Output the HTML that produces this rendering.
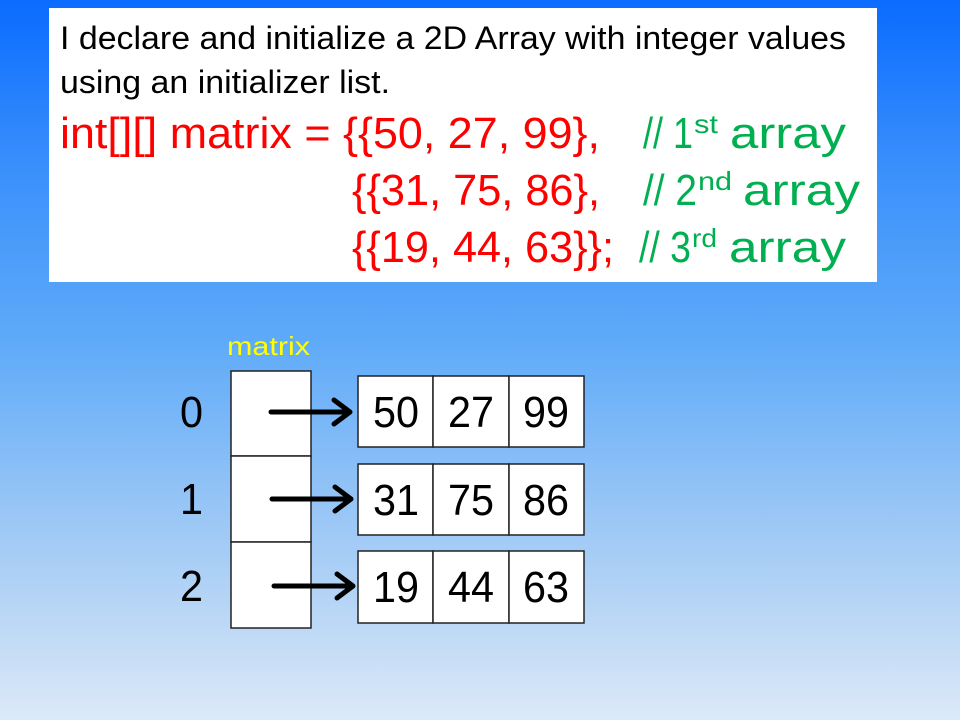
<!DOCTYPE html>
<html><head><meta charset="utf-8"><style>
html,body{margin:0;padding:0;width:960px;height:720px;overflow:hidden}
body{background:linear-gradient(to bottom,#0a6cff 0px,#3d92fb 180px,#5eaaf9 340px,#95c4f6 500px,#c2dbf6 640px,#dce9f9 720px)}
svg{position:absolute;left:0;top:0}
</style></head><body>
<svg width="960" height="720" viewBox="0 0 960 720" font-family="'Liberation Sans',sans-serif">
<rect x="49" y="8" width="828" height="274" fill="#fff"/>
<text x="60" y="49" font-size="32" fill="#000" textLength="786" lengthAdjust="spacingAndGlyphs">I declare and initialize a 2D Array with integer values</text>
<text x="60" y="93" font-size="32" fill="#000" textLength="330" lengthAdjust="spacingAndGlyphs">using an initializer list.</text>
<g font-size="44" lengthAdjust="spacingAndGlyphs">
<text x="60" y="148" fill="#f00" textLength="540" lengthAdjust="spacingAndGlyphs">int[][] matrix = {{50, 27, 99},</text>
<text x="352" y="205" fill="#f00" textLength="248" lengthAdjust="spacingAndGlyphs">{{31, 75, 86},</text>
<text x="352" y="262" fill="#f00" textLength="262" lengthAdjust="spacingAndGlyphs">{{19, 44, 63}};</text>
<g fill="#00b050">
<text x="643" y="148" textLength="50" lengthAdjust="spacingAndGlyphs">// 1</text>
<text x="694" y="133" font-size="26" textLength="24" lengthAdjust="spacingAndGlyphs">st</text>
<text x="730" y="148" textLength="116" lengthAdjust="spacingAndGlyphs">array</text>
<text x="643" y="205" textLength="54" lengthAdjust="spacingAndGlyphs">// 2</text>
<text x="698" y="190" font-size="26" textLength="34" lengthAdjust="spacingAndGlyphs">nd</text>
<text x="743" y="205" textLength="117" lengthAdjust="spacingAndGlyphs">array</text>
<text x="639" y="262" textLength="52" lengthAdjust="spacingAndGlyphs">// 3</text>
<text x="692" y="247" font-size="26" textLength="25" lengthAdjust="spacingAndGlyphs">rd</text>
<text x="729" y="262" textLength="117" lengthAdjust="spacingAndGlyphs">array</text>
</g>
</g>
<text x="227" y="355" font-size="26" fill="#ffff00" textLength="83" lengthAdjust="spacingAndGlyphs">matrix</text>
<g fill="#fff" stroke="#222" stroke-width="1.5">
<rect x="231" y="371" width="80" height="85"/>
<rect x="231" y="456" width="80" height="86"/>
<rect x="231" y="542" width="80" height="86"/>
<rect x="358" y="376" width="75" height="71"/><rect x="433" y="376" width="76" height="71"/><rect x="509" y="376" width="75" height="71"/>
<rect x="358" y="464" width="75" height="71"/><rect x="433" y="464" width="76" height="71"/><rect x="509" y="464" width="75" height="71"/>
<rect x="358" y="551" width="75" height="72"/><rect x="433" y="551" width="76" height="72"/><rect x="509" y="551" width="75" height="72"/>
</g>
<g font-size="44" fill="#000">
<text x="180" y="427" textLength="23" lengthAdjust="spacingAndGlyphs">0</text>
<text x="180" y="514" textLength="23" lengthAdjust="spacingAndGlyphs">1</text>
<text x="180" y="601" textLength="23" lengthAdjust="spacingAndGlyphs">2</text>
<g lengthAdjust="spacingAndGlyphs">
<text x="373" y="427" textLength="46" lengthAdjust="spacingAndGlyphs">50</text><text x="448" y="427" textLength="46" lengthAdjust="spacingAndGlyphs">27</text><text x="523" y="427" textLength="46" lengthAdjust="spacingAndGlyphs">99</text>
<text x="373" y="515" textLength="46" lengthAdjust="spacingAndGlyphs">31</text><text x="448" y="515" textLength="46" lengthAdjust="spacingAndGlyphs">75</text><text x="523" y="515" textLength="46" lengthAdjust="spacingAndGlyphs">86</text>
<text x="373" y="602" textLength="46" lengthAdjust="spacingAndGlyphs">19</text><text x="448" y="602" textLength="46" lengthAdjust="spacingAndGlyphs">44</text><text x="523" y="602" textLength="46" lengthAdjust="spacingAndGlyphs">63</text>
</g>
</g>
<g stroke="#000" stroke-width="5" fill="none" stroke-linecap="round" stroke-linejoin="round">
<path d="M271 412H348M334 400L350 412L334 424"/>
<path d="M272 499H349M335 487L351 499L335 511"/>
<path d="M274 586H351M337 574L353 586L337 598"/>
</g>
</svg>
</body></html>
